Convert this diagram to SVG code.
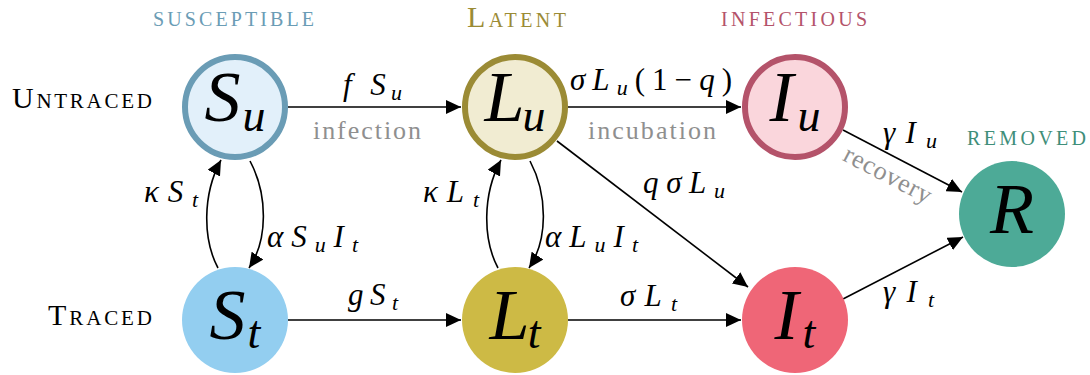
<svg xmlns="http://www.w3.org/2000/svg" width="1090" height="375" viewBox="0 0 1090 375">
<defs>
<marker id="ar" markerUnits="userSpaceOnUse" markerWidth="16" markerHeight="14" refX="15" refY="7" orient="auto">
<path d="M0,0 L15,7 L0,14 Z" fill="#000"/>
</marker>
</defs>
<g id="headings" font-size="20">
<text font-family="Liberation Serif, serif" style="font-family:'Liberation Serif',serif !important" x="153" y="26" textLength="161" lengthAdjust="spacing" fill="#6a9cb5">SUSCEPTIBLE</text>
<text font-family="Liberation Serif, serif" style="font-family:'Liberation Serif',serif !important" x="467" y="27" textLength="99" lengthAdjust="spacing" fill="#9b8b35"><tspan font-size="30">L</tspan>ATENT</text>
<text font-family="Liberation Serif, serif" style="font-family:'Liberation Serif',serif !important" x="721" y="26" textLength="146" lengthAdjust="spacing" fill="#b4536a">INFECTIOUS</text>
<text font-family="Liberation Serif, serif" style="font-family:'Liberation Serif',serif !important" x="967" y="145" textLength="119" lengthAdjust="spacing" fill="#3f8e79">REMOVED</text>
<text font-family="Liberation Serif, serif" style="font-family:'Liberation Serif',serif !important" x="12" y="108" textLength="140" lengthAdjust="spacing" font-size="21"><tspan font-size="30">U</tspan>NTRACED</text>
<text font-family="Liberation Serif, serif" style="font-family:'Liberation Serif',serif !important" x="48" y="325" textLength="104" lengthAdjust="spacing" font-size="21"><tspan font-size="30">T</tspan>RACED</text>
</g>
<g id="connectors">
<g fill="none" stroke="#000" stroke-width="1.6" marker-end="url(#ar)">
<path d="M288,107 L461,107"/>
<path d="M568,107 L741,107"/>
<path d="M288,320 L461,320"/>
<path d="M568,320 L741,320"/>
<path d="M557,141 L748,287"/>
<path d="M843,130 L962,192"/>
<path d="M843,299 L963,237"/>
<path d="M218,268 C203,240 202,195 221,160"/>
<path d="M250,161 C268,195 268,240 249,268"/>
<path d="M498,268 C483,240 482,195 501,160"/>
<path d="M530,161 C548,195 548,240 529,268"/>
</g>
<g font-size="26" fill="#8f8f8f">
<text font-family="Liberation Serif, serif" style="font-family:'Liberation Serif',serif !important" x="313" y="139" textLength="108" lengthAdjust="spacing">infection</text>
<text font-family="Liberation Serif, serif" style="font-family:'Liberation Serif',serif !important" x="588" y="139" textLength="128" lengthAdjust="spacing">incubation</text>
<text font-family="Liberation Serif, serif" style="font-family:'Liberation Serif',serif !important" transform="translate(884,182) rotate(27.5)" text-anchor="middle" textLength="96" lengthAdjust="spacing">recovery</text>
</g>
<g font-size="31" font-style="italic" fill="#000">
<text font-family="Liberation Serif, serif" style="font-family:'Liberation Serif',serif !important" x="343" y="95" textLength="59" lengthAdjust="spacing">f S<tspan font-size="22" dy="5">u</tspan></text>
<text font-family="Liberation Serif, serif" style="font-family:'Liberation Serif',serif !important" x="570" y="90" textLength="162" lengthAdjust="spacing">σL<tspan font-size="22" dy="5">u</tspan><tspan font-style="normal" dy="-5">(1−</tspan>q<tspan font-style="normal">)</tspan></text>
<text font-family="Liberation Serif, serif" style="font-family:'Liberation Serif',serif !important" x="643" y="193" textLength="82" lengthAdjust="spacing">qσL<tspan font-size="22" dy="5">u</tspan></text>
<text font-family="Liberation Serif, serif" style="font-family:'Liberation Serif',serif !important" x="883" y="143" textLength="54" lengthAdjust="spacing">γI<tspan font-size="22" dy="5">u</tspan></text>
<text font-family="Liberation Serif, serif" style="font-family:'Liberation Serif',serif !important" x="883" y="302" textLength="51" lengthAdjust="spacing">γI<tspan font-size="22" dy="5">t</tspan></text>
<text font-family="Liberation Serif, serif" style="font-family:'Liberation Serif',serif !important" x="348" y="305" textLength="50" lengthAdjust="spacing">gS<tspan font-size="22" dy="5">t</tspan></text>
<text font-family="Liberation Serif, serif" style="font-family:'Liberation Serif',serif !important" x="620" y="306" textLength="57" lengthAdjust="spacing">σL<tspan font-size="22" dy="5">t</tspan></text>
<text font-family="Liberation Serif, serif" style="font-family:'Liberation Serif',serif !important" x="144" y="202" textLength="54" lengthAdjust="spacing">κS<tspan font-size="22" dy="5">t</tspan></text>
<text font-family="Liberation Serif, serif" style="font-family:'Liberation Serif',serif !important" x="267" y="247" textLength="91" lengthAdjust="spacing">αS<tspan font-size="22" dy="5">u</tspan><tspan dy="-5">I</tspan><tspan font-size="22" dy="5">t</tspan></text>
<text font-family="Liberation Serif, serif" style="font-family:'Liberation Serif',serif !important" x="423" y="202" textLength="56" lengthAdjust="spacing">κL<tspan font-size="22" dy="5">t</tspan></text>
<text font-family="Liberation Serif, serif" style="font-family:'Liberation Serif',serif !important" x="545" y="247" textLength="93" lengthAdjust="spacing">αL<tspan font-size="22" dy="5">u</tspan><tspan dy="-5">I</tspan><tspan font-size="22" dy="5">t</tspan></text>
</g>
</g>
<g font-size="72" font-style="italic" text-anchor="middle">
<g id="Su"><circle cx="235" cy="107" r="50" fill="#e2f0fa" stroke="#6a9cb5" stroke-width="6"/><text font-family="Liberation Serif, serif" style="font-family:'Liberation Serif',serif !important" x="235" y="121">S<tspan font-size="46" dx="2" dy="10">u</tspan></text></g>
<g id="St"><circle cx="235" cy="320" r="53" fill="#93cef0"/><text font-family="Liberation Serif, serif" style="font-family:'Liberation Serif',serif !important" x="235" y="339">S<tspan font-size="46" dx="2" dy="9">t</tspan></text></g>
<g id="Lu"><circle cx="515" cy="107" r="50" fill="#f1ecd2" stroke="#9b8b35" stroke-width="6"/><text font-family="Liberation Serif, serif" style="font-family:'Liberation Serif',serif !important" x="515" y="121">L<tspan font-size="46" dx="-2" dy="10">u</tspan></text></g>
<g id="Lt"><circle cx="515" cy="320" r="53" fill="#cdba45"/><text font-family="Liberation Serif, serif" style="font-family:'Liberation Serif',serif !important" x="515" y="339">L<tspan font-size="46" dx="-2" dy="9">t</tspan></text></g>
<g id="Iu"><circle cx="795" cy="107" r="50" fill="#fad6dc" stroke="#b4536a" stroke-width="6"/><text font-family="Liberation Serif, serif" style="font-family:'Liberation Serif',serif !important" x="795" y="121">I<tspan font-size="46" dx="4" dy="10">u</tspan></text></g>
<g id="It"><circle cx="795" cy="320" r="53" fill="#ef6677"/><text font-family="Liberation Serif, serif" style="font-family:'Liberation Serif',serif !important" x="795" y="339">I<tspan font-size="46" dx="4" dy="9">t</tspan></text></g>
<g id="R"><circle cx="1012" cy="214" r="53" fill="#4daa97"/><text font-family="Liberation Serif, serif" style="font-family:'Liberation Serif',serif !important" x="1012" y="233">R</text></g>
</g>
</svg>
